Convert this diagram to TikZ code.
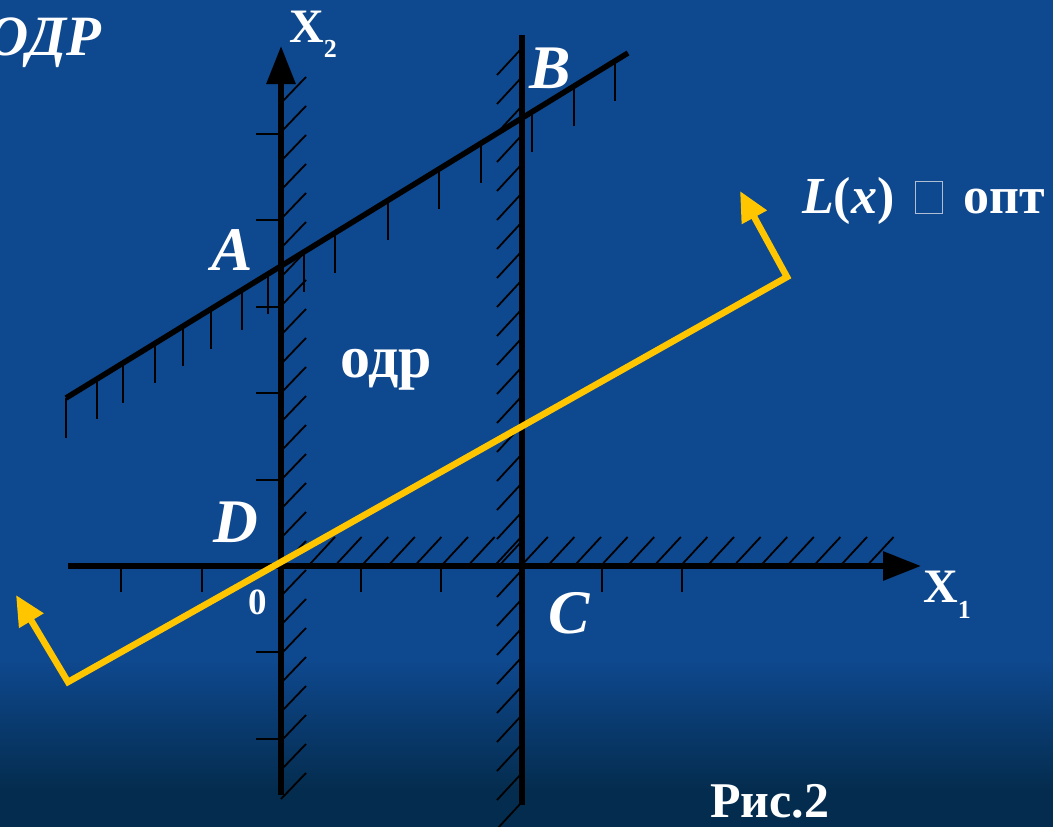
\documentclass[tikz,border=0pt]{standalone}
\usepackage{fontspec}
\setmainfont{Liberation Serif}
\usetikzlibrary{
  arrows.meta,
  positioning,
  calc
}
\definecolor{deepblue}{RGB}{14,72,142}
\definecolor{nightblue}{RGB}{4,44,78}
\definecolor{signyellow}{RGB}{255,198,0}
\definecolor{boxgray}{RGB}{175,190,210}

\begin{document}
\begin{tikzpicture}[x=1pt, y=-1pt,
            axisline/.style={draw=black, line width=6pt},
            boundline/.style={draw=black, line width=5.5pt},
            hatchline/.style={draw=black, line width=1.8pt},
            tickline/.style={draw=black, line width=2pt},
            objline/.style={draw=signyellow, line width=6.5pt, line join=miter},
            pointlbl/.style={text=white, inner sep=0pt, font=\fontsize{62}{62}\selectfont\bfseries\itshape},
            axislbl/.style={text=white, inner sep=0pt, font=\fontsize{48}{48}\selectfont\bfseries},
            plainlbl/.style={text=white, inner sep=0pt, font=\fontsize{50}{50}\selectfont\bfseries}]
            \useasboundingbox (0,0) rectangle (1053,827);
            \fill[deepblue] (0,0) rectangle (1053,660);
            \shade[top color=deepblue, bottom color=nightblue] (0,660) rectangle (1053,790);
            \fill[nightblue] (0,790) rectangle (1053,827);
            % points of the drawing
            \coordinate (O) at (281,566);
            \coordinate (x1tail) at (68,566);
            \coordinate (x1head) at (921,566);
            \coordinate (x2tail) at (281,795);
            \coordinate (x2head) at (281,46);
            \coordinate (ctop) at (522,35);
            \coordinate (cbot) at (522,805);
            \coordinate (ableft) at (66,398);
            \coordinate (abright) at (628,53);
            \coordinate (lleft) at (68,682);
            \coordinate (lright) at (787,277);
            \coordinate (tipleft) at (16,595);
            \coordinate (tipright) at (740,191);
            % hatching
            \foreach \hy in {103,132,...,800}
              \draw[hatchline] (281,\hy) -- ++(25,-26);
            \foreach \hy in {48,77,...,815}
              \draw[hatchline] (522,\hy) -- ++(-25,27);
            \foreach \hx in {310,336.6,...,870}
              \draw[hatchline] (\hx,564) -- ++(25,-27);
            \foreach \hx [evaluate=\hx as \hy using 398-0.6139*(\hx-66)] in {66,97,123,155,183,211,242,268,304,335,388,439,481,532,574,615}
              \draw[hatchline] (\hx,\hy) -- ++(0,40);
            % ticks
            \foreach \ty in {134,220,307,393,480,652,739}
              \draw[tickline] (256,\ty) -- (281,\ty);
            \foreach \tx in {121,202,361,441,602,682}
              \draw[tickline] (\tx,566) -- (\tx,592);
            % lines
            \draw[boundline] (ableft) -- (abright);
            \draw[boundline] (cbot) -- (ctop);
            \draw[axisline, -{Triangle[length=38pt, width=28pt]}] (x1tail) -- (x1head);
            \draw[axisline, -{Triangle[length=38pt, width=28pt]}] (x2tail) -- (x2head);
            \draw[objline, {Triangle[length=30pt, width=27pt]}-{Triangle[length=30pt, width=27pt]}] (tipleft) -- (lleft) -- (lright) -- (tipright);
            % labels
            \node[pointlbl, font=\fontsize{57}{57}\selectfont\bfseries\itshape, anchor=base east] (odr) at (101,55) {ОДР};
            \node[axislbl, anchor=base west] (x2lbl) at (289,42) {X\raisebox{-15pt}{\fontsize{26}{26}\selectfont 2}};
            \node[axislbl, anchor=base west] (x1lbl) at (923,602) {X\raisebox{-16pt}{\fontsize{26}{26}\selectfont 1}};
            \node[pointlbl, anchor=base west] (ptA) at (211,270) {A};
            \node[pointlbl, anchor=base west] (ptB) at (529,88) {B};
            \node[pointlbl, anchor=base west] (ptC) at (548,633) {C};
            \node[pointlbl, anchor=base west] (ptD) at (213,542) {D};
            \node[axislbl, font=\fontsize{37}{37}\selectfont\bfseries, anchor=base] (zero) at (258,614) {0};
            \node[plainlbl, font=\fontsize{60}{60}\selectfont\bfseries, anchor=base west] (region) at (340,377) {одр};
            \node[plainlbl, font=\fontsize{52}{52}\selectfont\bfseries, anchor=base west] (goal) at (802,213)
              {\textit{L}(\textit{x})\hspace{20pt}\textcolor{boxgray}{\setlength\fboxrule{1pt}\setlength\fboxsep{0pt}\fbox{\phantom{\rule{26pt}{31pt}}}}\hspace{21pt}опт};
            \node[plainlbl, anchor=base west] (fig) at (710,817) {Рис.2};
        \end{tikzpicture}
\end{document}
